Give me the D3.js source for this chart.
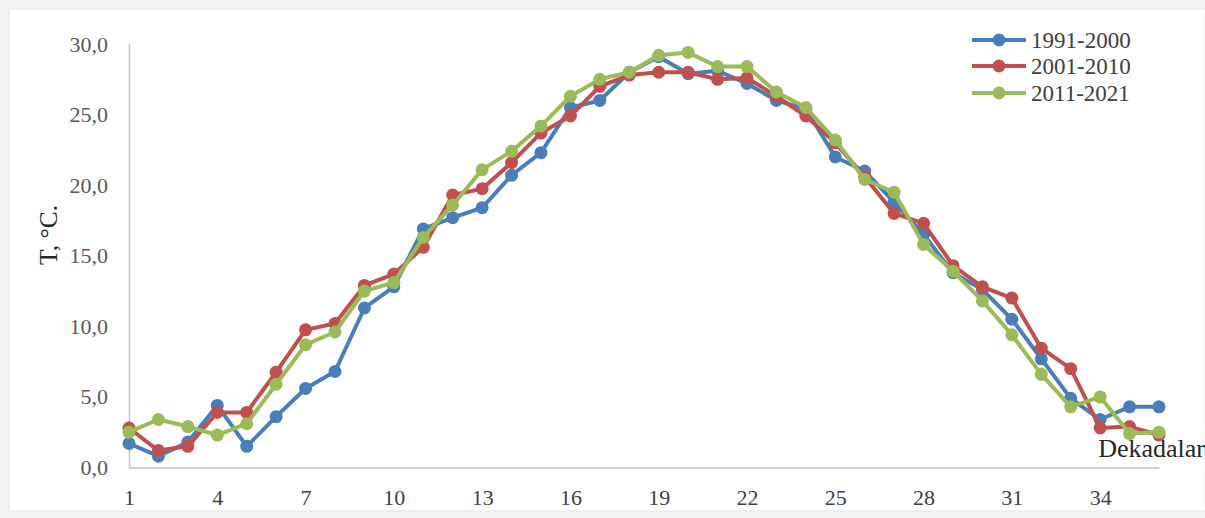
<!DOCTYPE html>
<html><head><meta charset="utf-8">
<script src="https://cdn.jsdelivr.net/npm/d3@7"></script>
<style>html,body{margin:0;padding:0;background:#f3f3f3;}svg{display:block;}</style>
</head><body>
<svg id="c" width="1205" height="518"></svg>
<script>
const dekadas = d3.range(1, 37);
const xTickLabels = [1, 4, 7, 10, 13, 16, 19, 22, 25, 28, 31, 34];
const yTickValues = [0, 5, 10, 15, 20, 25, 30];
const seriesNames = ["1991-2000", "2001-2010", "2011-2021"];
const s1991 = [1.7, 0.8, 1.8, 4.4, 1.5, 3.6, 5.6, 6.8, 11.3, 12.8, 16.9, 17.7, 18.4, 20.7, 22.3, 25.5, 26.0, 28.0, 29.1, 27.9, 28.1, 27.2, 26.0, 25.4, 22.0, 21.0, 18.8, 16.5, 13.8, 12.6, 10.5, 7.7, 4.9, 3.4, 4.3, 4.3];
const s2001 = [2.8, 1.2, 1.5, 3.9, 3.9, 6.75, 9.75, 10.2, 12.9, 13.7, 15.6, 19.3, 19.75, 21.6, 23.7, 24.9, 27.0, 27.8, 28.0, 28.0, 27.5, 27.6, 26.3, 24.9, 23.0, 20.6, 18.0, 17.3, 14.3, 12.8, 12.0, 8.45, 7.0, 2.8, 2.9, 2.3];
const s2011 = [2.5, 3.4, 2.9, 2.3, 3.1, 5.9, 8.7, 9.6, 12.5, 13.1, 16.3, 18.6, 21.1, 22.4, 24.2, 26.3, 27.5, 28.0, 29.2, 29.4, 28.4, 28.4, 26.6, 25.5, 23.2, 20.4, 19.5, 15.8, 13.9, 11.8, 9.4, 6.6, 4.3, 5.0, 2.4, 2.5];
const seriesColors = ["#4a7ebb", "#c0504d", "#9bbb59"];
const allSeries = [s1991, s2001, s2011];

const svg = d3.select("#c");
const font = "'Liberation Serif','Times New Roman',serif";

// page frame
svg.append("rect").attr("x", 9).attr("y", 9).attr("width", 1196).attr("height", 502)
  .attr("fill", "#ffffff").attr("stroke", "#e6e6e6").attr("stroke-width", 1);

const x = d3.scaleLinear().domain([1, 36]).range([129, 1159]);
const y = d3.scaleLinear().domain([0, 30]).range([467.5, 44]);

// axes
const yAxis = d3.axisLeft(y).tickValues(yTickValues).tickSize(0).tickPadding(21)
  .tickFormat(d => d3.format(".1f")(d).replace(".", ","));
const gy = svg.append("g").attr("transform", `translate(${x(1)},0)`).call(yAxis);
gy.select(".domain").attr("stroke", "#bfbfbf").attr("stroke-width", 1.5);
gy.selectAll("text").attr("font-family", font).attr("font-size", 22).attr("fill", "#595959");

const xAxis = d3.axisBottom(x).tickValues(xTickLabels).tickSize(0).tickPadding(22)
  .tickFormat(d3.format("d"));
const gx = svg.append("g").attr("transform", `translate(0,${y(0)})`).call(xAxis);
gx.select(".domain").attr("stroke", "#bfbfbf").attr("stroke-width", 1.5);
gx.selectAll("text").attr("font-family", font).attr("font-size", 22).attr("fill", "#404040");

// y title
svg.append("text").attr("transform", `translate(57,235) rotate(-90)`)
  .attr("text-anchor", "middle").attr("font-family", font).attr("font-size", 25.5)
  .attr("fill", "#262626").text("T, °C.");

// x title
svg.append("text").attr("x", 1205).attr("y", 457).attr("text-anchor", "end")
  .attr("font-family", font).attr("font-size", 26).attr("fill", "#262626").text("Dekadalar");

// series
const line = d3.line().x((d, i) => x(dekadas[i])).y(d => y(d));
allSeries.forEach((s, k) => {
  const g = svg.append("g");
  g.append("path").datum(s).attr("d", line).attr("fill", "none")
    .attr("stroke", seriesColors[k]).attr("stroke-width", 4).attr("stroke-linejoin", "round");
  g.selectAll("circle").data(s).join("circle")
    .attr("cx", (d, i) => x(dekadas[i])).attr("cy", d => y(d)).attr("r", 6.5)
    .attr("fill", seriesColors[k]);
});

// legend
const leg = svg.append("g");
const legY = [40, 66, 93];
seriesNames.forEach((n, k) => {
  leg.append("line").attr("x1", 972).attr("x2", 1026).attr("y1", legY[k]).attr("y2", legY[k])
    .attr("stroke", seriesColors[k]).attr("stroke-width", 4);
  leg.append("circle").attr("cx", 999).attr("cy", legY[k]).attr("r", 6.5).attr("fill", seriesColors[k]);
  leg.append("text").attr("x", 1031).attr("y", legY[k]).attr("dy", "0.35em")
    .attr("font-family", font).attr("font-size", 23).attr("fill", "#404040").text(n);
});
</script>
</body></html>
